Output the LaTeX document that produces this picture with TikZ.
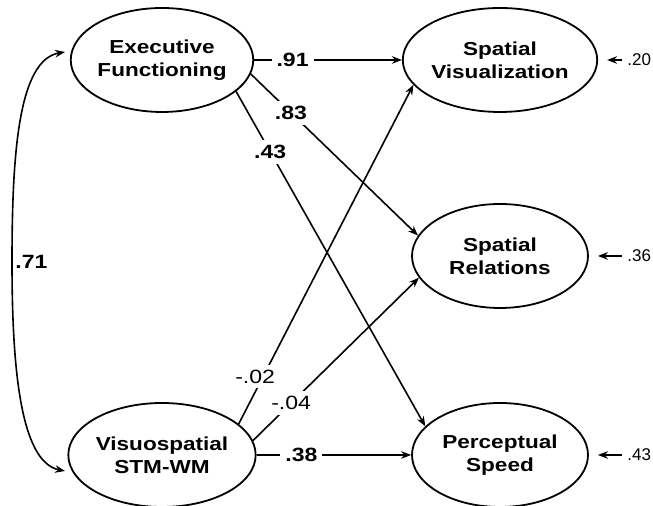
\documentclass[tikz,border=0pt]{standalone}
\usepackage{fontspec}
\setmainfont{Liberation Sans}
\newfontfamily\diagfont[FakeStretch=1.2]{Liberation Sans}
\usetikzlibrary{arrows.meta,shapes.geometric}

\begin{document}
\begin{tikzpicture}[x=0.5pt,y=0.5pt,>={Stealth[length=5pt,width=3.8pt]},
  factor/.style={draw,ellipse,line width=.9pt,minimum width=88pt,minimum height=52pt,inner sep=0pt,align=center,font=\diagfont\bfseries\fontsize{9.4}{11.5}\selectfont},
  coef/.style={fill=white,inner sep=2.5pt,font=\diagfont\bfseries\fontsize{9.6}{11}\selectfont},
  coefn/.style={coef,font=\diagfont\fontsize{9.6}{11}\selectfont},
  resid/.style={anchor=west,inner sep=0pt,font=\fontsize{8.5}{10}\selectfont},
  load/.style={->,line width=.8pt}]
\useasboundingbox (0,0) rectangle (653,506);
% predictors
\node[factor,minimum width=90pt] (exec) at (162,446) {Executive\\Functioning};
\node[factor,minimum width=90pt] (vstm) at (162,51) {Visuospatial\\STM-WM};
% outcomes
\node[factor] (svis) at (500,446) {Spatial\\Visualization};
\node[factor] (srel) at (500,250) {Spatial\\Relations};
\node[factor] (pspd) at (500,51) {Perceptual\\Speed};
% paths
\draw[load] (exec.east) -- node[coef,pos=.26] {.91} (svis.west);
\draw[load] (exec.-9) -- node[coef,pos=.24] {.83} (srel.166);
\draw[load] (exec.-23) -- node[coef,pos=.18] {.43} (pspd.159);
\draw[load] (vstm.22) -- node[coefn,pos=.14,xshift=-4pt] {-.02} (svis.196);
\draw[load] (vstm.9) -- node[coefn,pos=.23] {-.04} (srel.195);
\draw[load] (vstm.east) -- node[coef,pos=.29] {.38} (pspd.west);
% correlation
\coordinate (ctop) at (65,454);
\coordinate (cmid) at (12,244);
\coordinate (cbot) at (65,35);
\draw[load,<->] (ctop) .. controls (18,446) and (12,350) .. (cmid) .. controls (12,140) and (20,44) .. (cbot);
\node[coef,fill=none,anchor=west,inner sep=0pt] (r) at (15,244) {.71};
% residuals
\node[resid] (esvis) at (627,446) {.20};
\node[resid] (esrel) at (627,250) {.36};
\node[resid] (epspd) at (627,51) {.43};
\draw[load,shorten <=2.5pt,shorten >=4.5pt] (esvis.west) -- (svis.east);
\draw[load,shorten <=2.5pt,shorten >=4.5pt] (esrel.west) -- (srel.east);
\draw[load,shorten <=2.5pt,shorten >=4.5pt] (epspd.west) -- (pspd.east);
\end{tikzpicture}
\end{document}
